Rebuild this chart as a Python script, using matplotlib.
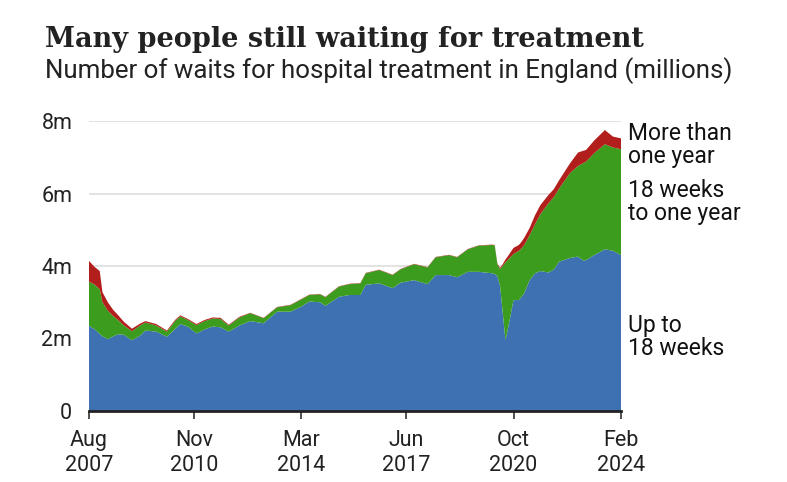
#!/usr/bin/env python3
"""
Stacked area chart of hospital waiting list in England, by wait length.
"""

import matplotlib.pyplot as plt

# month of each reading, and waits in millions
months = [
    "2007-08", "2007-10", "2007-12", "2008-01", "2008-03", "2008-05",
    "2008-07", "2008-09", "2008-12", "2009-03", "2009-05", "2009-09",
    "2010-01", "2010-04", "2010-06", "2010-09", "2010-12", "2011-03",
    "2011-06", "2011-09", "2011-12", "2012-04", "2012-08", "2013-01",
    "2013-06", "2013-11", "2014-03", "2014-06", "2014-10", "2014-12",
    "2015-05", "2015-09", "2016-01", "2016-03", "2016-08", "2017-01",
    "2017-04", "2017-09", "2018-02", "2018-05", "2018-10", "2019-01",
    "2019-05", "2019-09", "2020-02", "2020-03", "2020-04", "2020-05",
    "2020-06", "2020-07", "2020-08", "2020-10", "2020-12", "2021-01",
    "2021-02", "2021-04", "2021-06", "2021-08", "2021-11", "2022-01",
    "2022-03", "2022-07", "2022-10", "2022-12", "2023-01", "2023-04",
    "2023-08", "2023-11", "2024-02",
]
up_to_18_weeks = [
    2.35, 2.26, 2.13, 2.06, 1.98, 2.06,
    2.12, 2.10, 1.95, 2.08, 2.22, 2.19,
    2.05, 2.26, 2.40, 2.32, 2.14, 2.25,
    2.33, 2.31, 2.19, 2.36, 2.48, 2.42,
    2.74, 2.74, 2.88, 3.02, 3.00, 2.90,
    3.15, 3.20, 3.20, 3.48, 3.52, 3.39,
    3.54, 3.61, 3.50, 3.75, 3.75, 3.69,
    3.84, 3.84, 3.80, 3.78, 3.72, 3.45,
    2.70, 1.96, 2.30, 3.06, 3.06, 3.15,
    3.25, 3.61, 3.80, 3.86, 3.82, 3.90,
    4.12, 4.22, 4.26, 4.15, 4.16, 4.30,
    4.46, 4.42, 4.30,
]
weeks_18_to_one_year = [
    1.22, 1.23, 1.23, 0.94, 0.79, 0.56,
    0.38, 0.26, 0.25, 0.28, 0.22, 0.17,
    0.14, 0.22, 0.21, 0.18, 0.23, 0.23,
    0.22, 0.23, 0.17, 0.22, 0.22, 0.14,
    0.12, 0.18, 0.20, 0.18, 0.22, 0.24,
    0.28, 0.30, 0.32, 0.32, 0.37, 0.36,
    0.37, 0.44, 0.46, 0.49, 0.55, 0.55,
    0.62, 0.72, 0.78, 0.79, 0.33, 0.47,
    1.30, 2.14, 1.88, 1.27, 1.36, 1.34,
    1.33, 1.24, 1.35, 1.57, 1.91, 2.00,
    2.02, 2.34, 2.50, 2.69, 2.72, 2.81,
    2.90, 2.85, 2.92,
]
more_than_one_year = [
    0.57, 0.49, 0.50, 0.28, 0.23, 0.17,
    0.13, 0.10, 0.07, 0.05, 0.04, 0.04,
    0.03, 0.03, 0.03, 0.03, 0.03, 0.03,
    0.03, 0.03, 0.02, 0.02, 0.01, 0.01,
    0.01, 0.01, 0.01, 0.01, 0.01, 0.01,
    0.01, 0.01, 0.01, 0.01, 0.01, 0.01,
    0.01, 0.01, 0.01, 0.01, 0.01, 0.01,
    0.01, 0.01, 0.01, 0.01, 0.02, 0.03,
    0.05, 0.08, 0.10, 0.17, 0.16, 0.18,
    0.20, 0.20, 0.25, 0.25, 0.23, 0.22,
    0.23, 0.27, 0.37, 0.34, 0.32, 0.35,
    0.39, 0.30, 0.30,
]

series_labels = ["Up to\n18 weeks", "18 weeks\nto one year",
                 "More than\none year"]
label_baselines = [355, 220, 163]  # pixel rows of the last line

x_ticks = ["2007-08", "2010-11", "2014-03", "2017-06", "2020-10", "2024-02"]
x_tick_labels = ["Aug\n2007", "Nov\n2010", "Mar\n2014", "Jun\n2017",
                 "Oct\n2020", "Feb\n2024"]
y_ticks = [0, 2, 4, 6, 8]
y_tick_labels = ["0", "2m", "4m", "6m", "8m"]

colours = ["#3e71b1", "#3b9c1d", "#b11e1b"]
SANS = "Roboto"
W, H = 787, 482


def month_index(ym: str) -> int:
    """Months since August 2007."""
    year, month = ym.split("-")
    return (int(year) - 2007) * 12 + int(month) - 8


def main() -> None:
    """
    Draw the chart and save it as out.png.
    """
    fig = plt.figure(figsize=(W / 100, H / 100), dpi=100)
    ax = fig.add_axes([89 / W, 1 - 411 / H, 532 / W, 290 / H])

    x = [month_index(m) for m in months]
    ax.stackplot(x, up_to_18_weeks, weeks_18_to_one_year,
                 more_than_one_year, colors=colours, lw=0, zorder=2)

    ax.set_xlim(0, month_index("2024-02"))
    ax.set_ylim(0, 8)
    ax.set_yticks(y_ticks)
    ax.set_yticklabels(y_tick_labels, fontsize=15.5, family=SANS,
                       color="#222222")
    ax.set_xticks([month_index(t) for t in x_ticks])
    ax.set_xticklabels(x_tick_labels, fontsize=15.5, family=SANS,
                       color="#222222", linespacing=1.2)
    ax.tick_params(axis="y", length=0, pad=12)
    ax.tick_params(axis="x", length=6, width=1.2, color="#333333", pad=8)

    for y in y_ticks[1:]:
        ax.axhline(y, color="#dddddd", lw=1.2, zorder=1)
    for side in ["top", "right", "left"]:
        ax.spines[side].set_visible(False)
    ax.spines["bottom"].set_linewidth(2)
    ax.spines["bottom"].set_color("#222222")
    ax.spines["bottom"].set_zorder(3)

    for label, base in zip(series_labels, label_baselines):
        fig.text(628 / W, 1 - base / H, label, fontsize=16.5, family=SANS,
                 color="#111111", va="baseline", ha="left",
                 linespacing=1.0)

    fig.text(45 / W, 1 - 47 / H, "Many people still waiting for treatment",
             fontsize=19.5, family="DejaVu Serif", weight="bold",
             color="#222222", va="baseline")
    fig.text(45 / W, 1 - 78 / H,
             "Number of waits for hospital treatment in England (millions)",
             fontsize=18.6, family=SANS, color="#222222", va="baseline")

    fig.savefig("out.png", dpi=100)


if __name__ == '__main__':
    main()
